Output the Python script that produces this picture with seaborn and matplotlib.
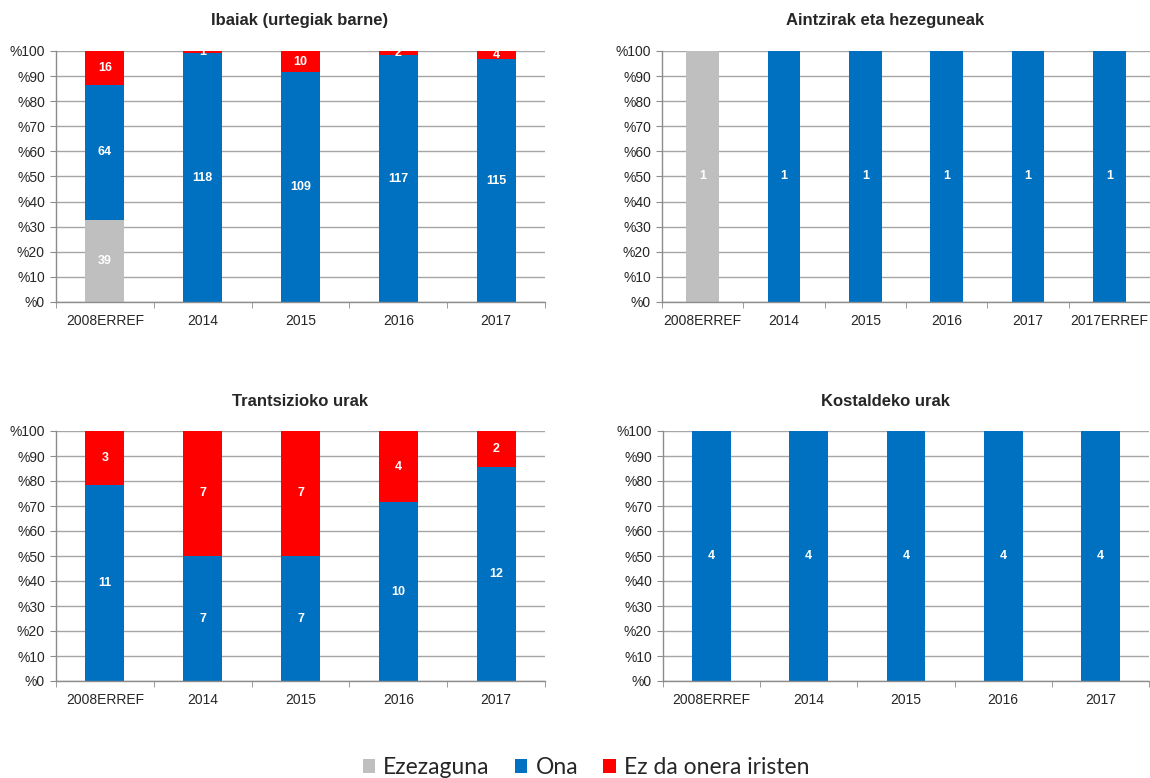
import matplotlib
matplotlib.use("Agg")

import numpy as np
import pandas as pd
import matplotlib.pyplot as plt
import seaborn as sns
from matplotlib.patches import Patch

# ---------------------------------------------------------------
# Datuak (ur-masa kopurua egoeraren arabera)
# ---------------------------------------------------------------
egoerak  = ["Ezezaguna", "Ona", "Ez da onera iristen"]
koloreak = ["#BFBFBF", "#0070C0", "#FF0000"]

ibaiak_urteak     = ["2008ERREF", "2014", "2015", "2016", "2017"]
ibaiak_ezezaguna  = [39, 0, 0, 0, 0]
ibaiak_ona        = [64, 118, 109, 117, 115]
ibaiak_ez_ona     = [16, 1, 10, 2, 4]

aintzirak_urteak    = ["2008ERREF", "2014", "2015", "2016", "2017", "2017ERREF"]
aintzirak_ezezaguna = [1, 0, 0, 0, 0, 0]
aintzirak_ona       = [0, 1, 1, 1, 1, 1]
aintzirak_ez_ona    = [0, 0, 0, 0, 0, 0]

trantsizio_urteak    = ["2008ERREF", "2014", "2015", "2016", "2017"]
trantsizio_ezezaguna = [0, 0, 0, 0, 0]
trantsizio_ona       = [11, 7, 7, 10, 12]
trantsizio_ez_ona    = [3, 7, 7, 4, 2]

kosta_urteak    = ["2008ERREF", "2014", "2015", "2016", "2017"]
kosta_ezezaguna = [0, 0, 0, 0, 0]
kosta_ona       = [4, 4, 4, 4, 4]
kosta_ez_ona    = [0, 0, 0, 0, 0]

# ---------------------------------------------------------------
# Estiloa
# ---------------------------------------------------------------
sns.set_style("white")
plt.rcParams["font.family"] = ["Liberation Sans", "DejaVu Sans"]

GRIS = "#A6A6A6"


def marraztu(ax, urteak, ezezaguna, ona, ez_ona):
    df = pd.DataFrame({"urtea": urteak, egoerak[0]: ezezaguna,
                       egoerak[1]: ona, egoerak[2]: ez_ona})
    guztira = df[egoerak].sum(axis=1)
    pct = df[egoerak].div(guztira, axis=0) * 100
    metatua = pct.cumsum(axis=1)
    plot_df = pd.concat([df[["urtea"]], metatua], axis=1)

    # goiko geruzatik behera marrazten da (barra metatuak)
    for egoera, kolorea in reversed(list(zip(egoerak, koloreak))):
        sns.barplot(data=plot_df, x="urtea", y=egoera, order=urteak,
                    color=kolorea, saturation=1, width=0.4,
                    linewidth=0, ax=ax)

    # etiketak segmentu bakoitzaren erdian
    for i in range(len(urteak)):
        for egoera in egoerak:
            n = df.loc[i, egoera]
            if n > 0:
                y = metatua.loc[i, egoera] - pct.loc[i, egoera] / 2
                ax.text(i, y, str(n), ha="center", va="center",
                        color="white", fontsize=9, fontweight="bold")

    n = len(urteak)
    ax.set_xlim(-0.5, n - 0.5)
    ax.set_ylim(0, 100)
    ax.set_yticks(range(0, 101, 10))
    ax.set_yticklabels([f"%{v}" for v in range(0, 101, 10)])
    ax.set_xticks(np.arange(-0.5, n), minor=True)
    ax.set_xlabel("")
    ax.set_ylabel("")
    ax.set_axisbelow(True)
    ax.yaxis.grid(True, color=GRIS, linewidth=1)
    ax.xaxis.grid(False)
    for s in ["top", "right"]:
        ax.spines[s].set_visible(False)
    for s in ["left", "bottom"]:
        ax.spines[s].set_color("#8C8C8C")
        ax.spines[s].set_linewidth(1)
    ax.tick_params(axis="y", left=True, length=4, color="#8C8C8C",
                   labelsize=10, pad=4)
    ax.tick_params(axis="x", which="major", length=0, labelsize=10, pad=9)
    ax.tick_params(axis="x", which="minor", bottom=True, length=4,
                   color="#8C8C8C")


W, H = 1150, 778
fig = plt.figure(figsize=(W / 100, H / 100), dpi=100)


def ardatza(x0, x1, y0, y1):
    return fig.add_axes([x0 / W, (H - y1) / H, (x1 - x0) / W, (y1 - y0) / H])


ax1 = ardatza(56, 545, 51, 302)
ax2 = ardatza(662, 1150, 51, 302)
ax3 = ardatza(56, 545, 431, 681)
ax4 = ardatza(663, 1149, 431, 681)

marraztu(ax1, ibaiak_urteak, ibaiak_ezezaguna, ibaiak_ona, ibaiak_ez_ona)
marraztu(ax2, aintzirak_urteak, aintzirak_ezezaguna, aintzirak_ona, aintzirak_ez_ona)
marraztu(ax3, trantsizio_urteak, trantsizio_ezezaguna, trantsizio_ona, trantsizio_ez_ona)
marraztu(ax4, kosta_urteak, kosta_ezezaguna, kosta_ona, kosta_ez_ona)

# izenburuak
for tx, ty, testua in [(300, 20, "Ibaiak (urtegiak barne)"),
                       (885, 20, "Aintzirak eta hezeguneak"),
                       (300, 401, "Trantsizioko urak"),
                       (885, 402, "Kostaldeko urak")]:
    fig.text(tx / W, (H - ty) / H, testua, ha="center", va="center",
             fontsize=12, fontweight="bold")

# legenda
eskuak = [Patch(facecolor=k, edgecolor="none") for k in koloreak]
fig.legend(eskuak, egoerak, loc="center",
           bbox_to_anchor=(586 / W, (H - 768) / H),
           ncol=3, frameon=False, handlelength=0.55, handleheight=0.55,
           handletextpad=0.35, columnspacing=1.1,
           prop={"family": ["Lato", "DejaVu Sans"], "size": 16.5})

plt.savefig("out.png", dpi=100)
